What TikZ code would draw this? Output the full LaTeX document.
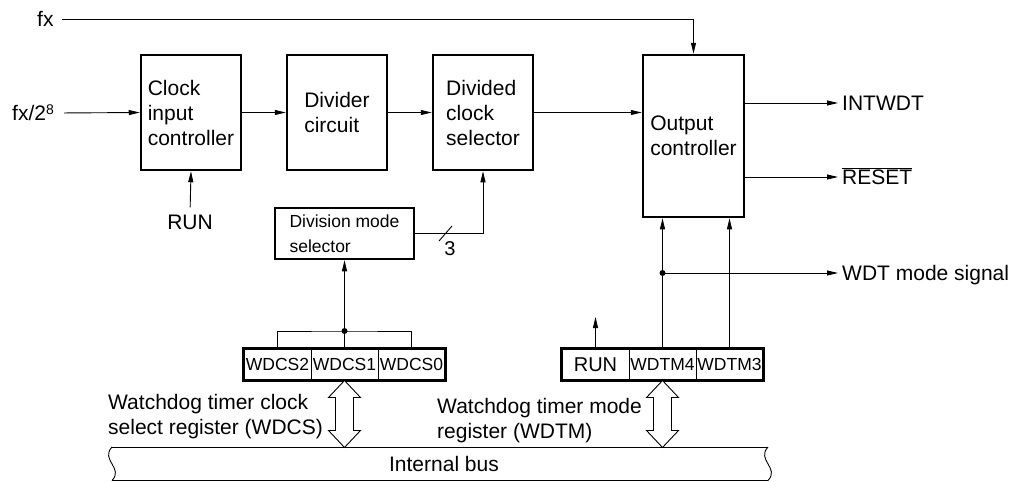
\documentclass[tikz,border=0pt]{standalone}
\usepackage{fontspec}
\setmainfont{Liberation Sans}
\usetikzlibrary{arrows.meta,calc}
\newcommand{\mainsz}{\fontsize{21}{25}\selectfont}
\newcommand{\smallsz}{\fontsize{17.5}{25}\selectfont}
\newcommand{\regsz}{\fontsize{17.5}{20}\selectfont}
\tikzset{
  blk/.style={draw, line width=2.5pt, minimum width=100pt, minimum height=115pt, align=left, inner sep=0pt, font=\mainsz},
  cell/.style={draw, line width=1pt, minimum width=67pt, minimum height=31pt, inner sep=0pt, font=\regsz},
  lbl/.style={inner xsep=4pt, inner ysep=0pt, text height=15pt, text depth=0pt, font=\mainsz},
  sig/.style={line width=0.9pt, -{Triangle[length=11pt,width=5pt]}},
  wire/.style={line width=0.9pt},
  dbl/.pic={\draw[fill=white,line width=0.9pt] (0,0) -- (16,17) -- (9,17) -- (9,50) -- (16,50) -- (0,67) -- (-16,50) -- (-9,50) -- (-9,17) -- (-16,17) -- cycle;}
}
\begin{document}
\begin{tikzpicture}[x=1pt,y=-1pt]
\useasboundingbox (0,0) rectangle (1023,482);

% main blocks
\node[blk] (cic) at (191,112.5) {Clock\\input\\controller};
\node[blk] (div) at (337,112.5) {Divider\\circuit};
\node[blk] (dcs) at (483,112.5) {Divided\\clock\\selector};
\node[blk, minimum width=101pt, minimum height=162pt] (out) at (693.5,136) {Output\\controller};
\node[blk, minimum width=139pt, minimum height=51pt, font=\smallsz] (dms) at (344.5,233.5) {Division mode\\selector};

% registers
\node[cell] (wdcs2) at (277.5,364.5) {WDCS2};
\node[cell] (wdcs1) at (344.5,364.5) {WDCS1};
\node[cell] (wdcs0) at (411.5,364.5) {WDCS0};
\draw[line width=2.5pt] (wdcs2.north west) rectangle (wdcs0.south east);
\node[cell, font=\fontsize{20}{22}\selectfont] (runr) at (595.5,364.5) {RUN};
\node[cell] (wdtm4) at (662.5,364.5) {WDTM4};
\node[cell] (wdtm3) at (729.5,364.5) {WDTM3};
\draw[line width=2.5pt] (runr.north west) rectangle (wdtm3.south east);

% labels
\node[lbl, anchor=west] (fx) at (33,19) {fx};
\node[lbl, anchor=west] (fx8) at (8,113) {fx/2\raisebox{6pt}{\fontsize{14}{14}\selectfont 8}};
\node[lbl] (run1) at (190,222) {RUN};
\node[lbl, anchor=west] (intwdt) at (838,103) {INTWDT};
\node[lbl, anchor=west] (reset) at (838,177) {$\overline{\mbox{RESET}}$};
\node[lbl, anchor=west] (wdtsig) at (838,273) {WDT mode signal};
\node[lbl, font=\fontsize{20}{22}\selectfont] (three) at (450,248) {3};
\node[anchor=west, align=left, inner sep=0pt, font=\mainsz] (wdcslbl) at (108,417) {Watchdog timer clock\\select register (WDCS)};
\node[anchor=west, align=left, inner sep=0pt, font=\mainsz] (wdtmlbl) at (437,421) {Watchdog timer mode\\register (WDTM)};

% internal bus
\draw[wire] (112,447) -- (768,447);
\draw[wire] (112,480.5) -- (768,480.5);
\draw[wire] (112,447) .. controls (100,460) and (124,468) .. (112,480.5);
\draw[wire] (768,447) .. controls (756,460) and (780,468) .. (768,480.5);
\node[font=\mainsz, inner sep=0pt] (bus) at (444,464) {Internal bus};

% connectors
\draw[sig, shorten <=4pt] (fx.east) -| (out.north);
\draw[sig, shorten <=6pt] (fx8.east) -- (cic.west);
\draw[sig] (cic.east) -- (div.west);
\draw[sig] (div.east) -- (dcs.west);
\draw[sig] (dcs.east) -- (dcs.east -| out.west);
\draw[sig, shorten <=7pt] (run1.north) -- (cic.south);
\draw[sig] (out.east |- intwdt.west) -- (intwdt.west);
\draw[sig] (out.east |- reset.west) -- (reset.west);
\draw[sig] (dms.east) -| (dcs.south);
\draw[wire] (439,241) -- (452,226);

\coordinate (j1) at (344.5,331);
\draw[wire] (wdcs2.north) |- (j1) -| (wdcs0.north);
\draw[sig] (wdcs1.north) -- (dms.south);
\fill (j1) circle (3pt);

\coordinate (j2) at (wdtm4.north |- wdtsig.west);
\draw[sig] (wdtm4.north) -- (wdtm4.north |- out.south);
\draw[sig] (wdtm3.north) -- (wdtm3.north |- out.south);
\draw[sig] (j2) -- (wdtsig.west);
\fill (j2) circle (3pt);

\coordinate (runup) at (595.5,317);
\draw[sig] (runr.north) -- (runup);

% double arrows register <-> bus
\pic at (wdcs1.south) {dbl};
\pic at (wdtm4.south) {dbl};
\end{tikzpicture}
\end{document}
